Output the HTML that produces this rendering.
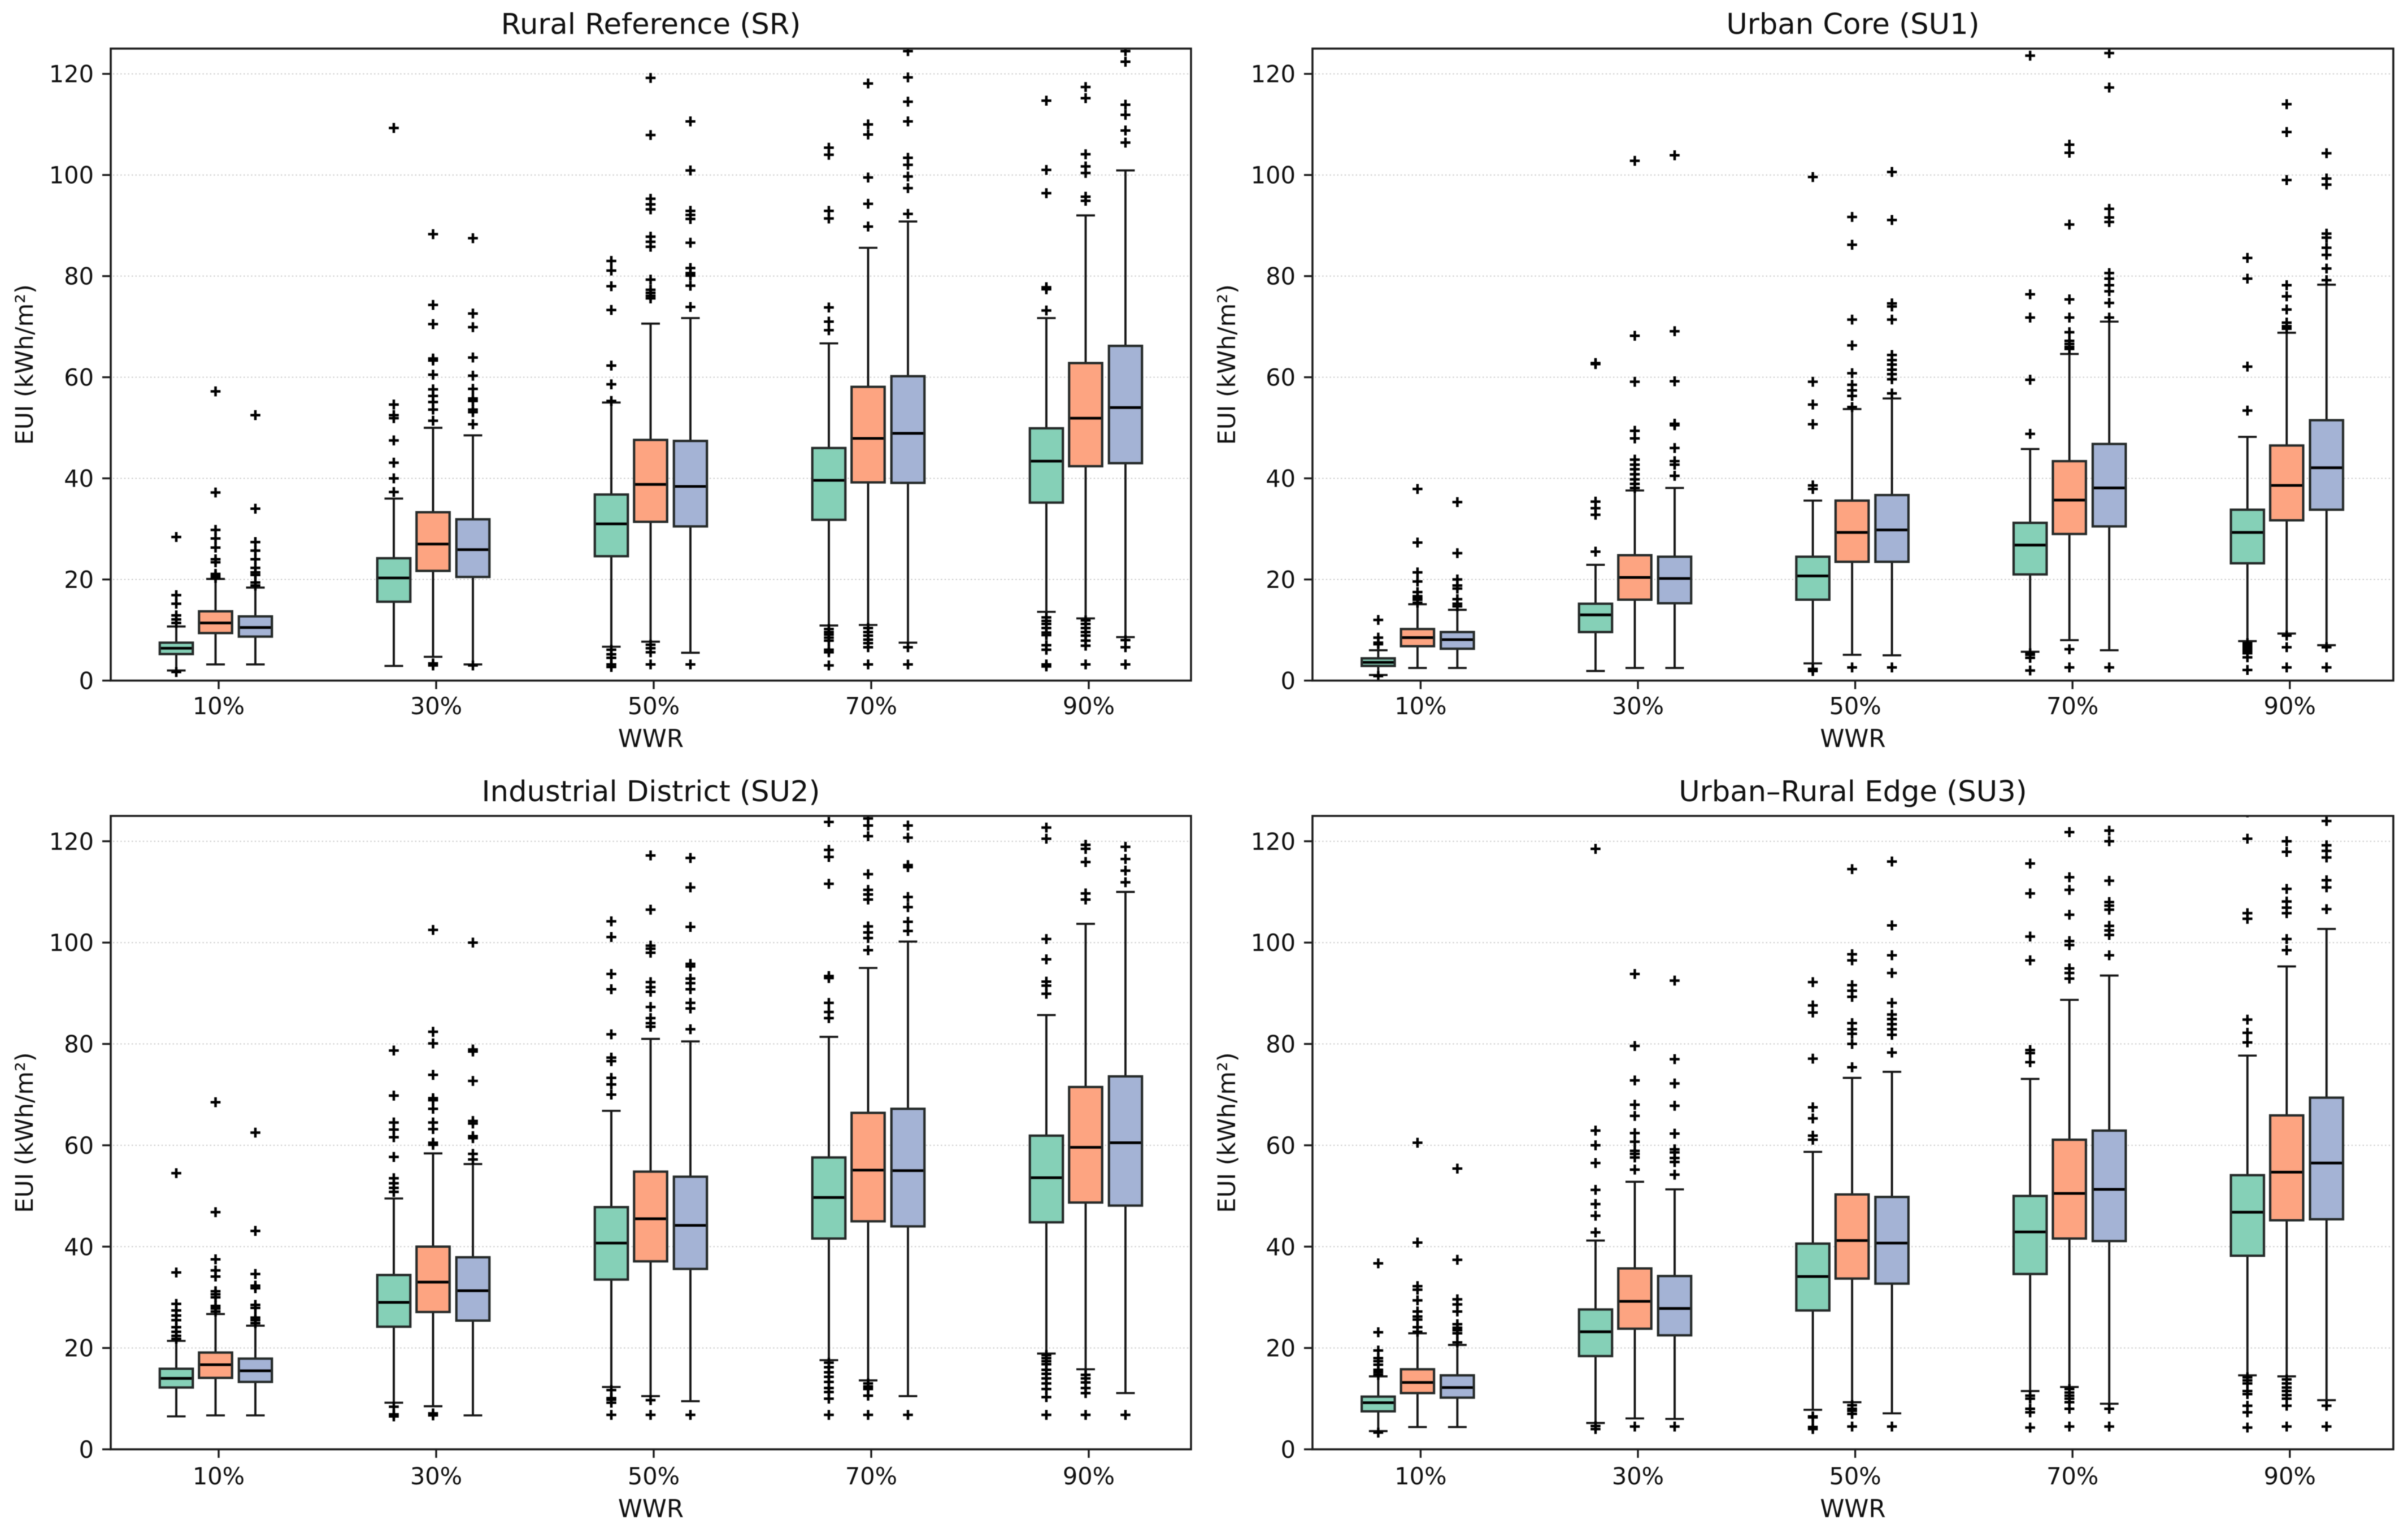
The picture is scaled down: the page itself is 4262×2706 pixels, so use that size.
<!DOCTYPE html>
<html lang="en">
<head>
<meta charset="utf-8">
<title>EUI by WWR boxplots</title>
<style>
html,body{margin:0;padding:0;background:#fff;width:4262px;height:2706px;overflow:hidden}
svg{display:block;filter:blur(0.9px)}
text{font-family:"DejaVu Sans","Liberation Sans",sans-serif;fill:#111}
</style>
</head>
<body>
<svg id="chart" xmlns="http://www.w3.org/2000/svg" width="4262" height="2706" viewBox="0 0 4262 2706"></svg>
<script>
const categories = ['10%','30%','50%','70%','90%'];
const seriesNames = ['series-a','series-b','series-c'];
const yTicks = [0,20,40,60,80,100,120];
const panelTitles = ['Rural Reference (SR)','Urban Core (SU1)','Industrial District (SU2)','Urban–Rural Edge (SU3)'];
const panelKeys = ['sr','su1','su2','su3'];

// Each stat: [category][series]
const srLow = [[2.0,3.2,3.2],[2.9,4.7,3.2],[6.7,7.7,5.5],[10.9,11,7.5],[13.6,12.3,8.6]];
const srQ1 = [[5.25,9.4,8.7],[15.6,21.7,20.5],[24.6,31.4,30.5],[31.8,39.2,39.1],[35.2,42.4,43]];
const srMedian = [[6.4,11.4,10.5],[20.3,27,25.9],[31,38.8,38.4],[39.6,47.9,48.9],[43.4,51.9,54]];
const srQ3 = [[7.5,13.7,12.7],[24.2,33.3,31.9],[36.8,47.6,47.4],[46,58.1,60.2],[49.9,62.8,66.2]];
const srHigh = [[10.7,20.1,18.4],[36,50,48.5],[55,70.6,71.7],[66.7,85.6,90.8],[71.7,92,100.9]];
const srFliers = [
 [[28.4,16.9,15.2,12.9,12.1,11.4,1.7],[57.2,37.2,29.8,28.1,26.3,24,23.4,21.1,20.7,20.3],[52.5,34,27.4,25.7,24,22.3,21.4,20.9,19.4,18.8]],
 [[109.3,54.6,52.5,51.9,47.5,43.1,40,37.3],[88.3,74.3,70.5,63.7,63.3,60.5,57.6,56.3,55.1,53.6,51.4,3.4,3.0],[87.5,72.6,69.9,63.9,60.3,57.7,55.8,55.3,53.6,53.1,50.7,3.0]],
 [[83,81.1,78,73.3,62.3,58.6,55.3,6.1,5.2,4.5,3.2,2.7],[119.2,107.9,95.3,94.2,93.2,87.8,86.8,85.8,79.3,77.3,76.7,76.1,75.6,7.1,6.4,5.6,3.2],[110.6,100.9,92.9,92.1,91.3,86.6,81.6,80.6,80.1,78.1,73.9,3.2]],
 [[105.4,104,92.9,91.4,73.8,71,69.3,10.2,9.6,9.1,8.5,7.9,6.1,5.6,3.0],[118.1,110,108,99.5,94.3,89.8,10.4,9.6,8.9,8.1,7.4,6.6,3.2],[124.5,119.3,114.5,110.6,103.4,102,99.7,97.4,92.3,6.6,3.2]],
 [[114.7,101,96.4,77.8,77.4,73.2,12.5,11.8,11.2,10.4,9.5,9,7,6.1,3.2,2.8],[117.4,115.2,104.1,101.7,100.4,95.7,94.9,11.9,11.2,10.4,9.6,8.9,7.9,6.9,3.2],[124.5,122.4,113.9,111.9,108.8,106.4,8,6.6,3.2]]
];

const su1Low = [[1.1,2.5,2.5],[1.9,2.5,2.5],[3.4,5.1,5],[5.7,8,6],[7.8,9.3,7]];
const su1Q1 = [[2.9,6.8,6.3],[9.6,16,15.3],[16,23.5,23.5],[21,29,30.5],[23.2,31.7,33.8]];
const su1Median = [[3.6,8.5,8.1],[13,20.4,20.2],[20.7,29.3,29.8],[26.8,35.7,38.1],[29.3,38.6,42.1]];
const su1Q3 = [[4.4,10.2,9.6],[15.2,24.8,24.5],[24.5,35.6,36.7],[31.2,43.4,46.8],[33.8,46.5,51.5]];
const su1High = [[6,15.1,14],[22.9,37.6,38.1],[35.6,53.7,55.8],[45.8,64.6,71],[48.2,68.8,78.3]];
const su1Fliers = [
 [[12,8.5,7.5,7.2,0.9],[37.9,27.3,21.4,19.6,17.5,16.7,16.3,16,15.4],[35.3,25.2,20,18.8,18.2,16.1,15.2,14.7]],
 [[62.8,62.6,35.4,34.1,32.8,25.5],[102.8,68.2,59.1,49.4,47.9,43.7,42.7,41.8,40.8,39.8,38.9,38.1],[103.9,69.1,59.2,50.8,50.5,46,43.4,42.7,40.5]],
 [[99.6,59.1,54.6,50.7,38.6,37.9,2.3,1.9],[91.7,86.2,71.4,66.3,60.8,58.5,57.4,56.3,54.1,2.6],[100.6,91.1,74.6,74,71.4,64.4,63.4,62.5,61.5,60.6,59.6,56.8,2.6]],
 [[123.6,76.4,71.8,59.5,48.8,5.4,5.1,4.5,2],[106,104.4,90.2,75.4,71.8,68.9,67.2,66.6,66,65.6,6.2,2.6],[124.1,117.3,93.3,91.6,90.7,80.6,79.5,78.2,77,74.7,71.8,2.6]],
 [[83.6,79.5,62.1,53.4,7.4,6.9,6.4,5.9,5.4,4.6,2.1],[114,108.5,99,78.2,76,73.4,70.8,70.1,69.6,8.9,6.6,2.6],[104.3,99.3,98.1,88.4,87.6,85.6,84.2,81.5,79.2,6.6,2.6]]
];

const su2Low = [[6.5,6.7,6.7],[9.2,8.5,6.7],[12.3,10.5,9.5],[17.6,13.6,10.5],[18.9,15.8,11.1]];
const su2Q1 = [[12.2,14.1,13.3],[24.2,27.1,25.4],[33.5,37.1,35.6],[41.6,45,44],[44.8,48.7,48.1]];
const su2Median = [[14,16.7,15.5],[29,33,31.3],[40.7,45.5,44.2],[49.7,55.1,55],[53.6,59.6,60.5]];
const su2Q3 = [[15.9,19.1,17.9],[34.4,40,37.9],[47.8,54.8,53.8],[57.6,66.4,67.2],[61.9,71.5,73.6]];
const su2High = [[21.4,26.7,24.4],[49.5,58.4,56.3],[66.8,81,80.5],[81.4,95,100.2],[85.7,103.7,110]];
const su2Fliers = [
 [[54.5,34.9,28.7,27.4,26.4,25.5,24.1,23.2,22.4,21.8],[68.5,46.8,37.5,35.3,34.1,31.2,30.6,30,28.3,27.8,27.2],[62.5,43.1,34.6,32.3,31.8,28.5,27.9,26,25.5,24.9]],
 [[78.7,69.8,64.5,63.1,61.6,57.7,53.5,52.5,51.6,50.8,8.4,6.9,6.5],[102.5,82.4,80.1,73.9,69.3,68.9,67.2,64.5,63.2,60.5,60.1,7.1,6.7],[100,78.9,78.5,72.7,64.8,64.3,61.8,61.4,58.3,57.2]],
 [[104.2,101.1,93.8,90.8,81.9,77.3,76.6,73.3,72,70,11.7,10.1,9.8,9.2,6.8],[117.2,106.5,99.4,98.8,98,92.2,91.2,90.3,87.3,85.1,84.1,83.4,9.7,6.8],[116.7,110.9,103.1,95.8,95.3,92.9,92,90.8,88.1,87,82.9,6.8]],
 [[123.8,118.3,116.9,111.6,93.4,93,88.1,86.3,85.1,17.1,16.2,15.2,14.3,13.3,12.1,11.3,10,6.8],[124.5,123.1,121,113.5,110.4,109.5,108.5,103.2,102,100.9,98.5,13,12.4,11.9,10.6,6.8],[123.1,120.7,115.3,114.9,109,107,104.1,102.3,6.8]],
 [[122.7,120.5,100.7,96.7,92.3,91.5,89.9,18.6,18,17.4,16.8,15.7,14.9,14,13,11.9,10.3,6.8],[119.3,118.5,115.9,109.7,108.5,14.7,14,13.2,12.1,11.1,6.8],[118.9,116.5,114.2,111.9,6.8]]
];

const su3Low = [[3.6,4.4,4.4],[5.2,6.1,6],[7.8,9.3,7.1],[11.5,12.3,9],[14.6,14.4,9.7]];
const su3Q1 = [[7.5,11.1,10.2],[18.4,23.8,22.5],[27.4,33.7,32.7],[34.6,41.6,41.1],[38.2,45.2,45.4]];
const su3Median = [[9.2,13.2,12.2],[23.2,29.2,27.8],[34.1,41.2,40.7],[42.9,50.5,51.3],[46.8,54.7,56.5]];
const su3Q3 = [[10.4,15.8,14.6],[27.6,35.7,34.2],[40.6,50.3,49.8],[50,61.1,62.9],[54.1,65.9,69.4]];
const su3High = [[14.4,22.9,20.6],[41.2,52.8,51.3],[58.7,73.3,74.5],[73.1,88.7,93.5],[77.7,95.3,102.7]];
const su3Fliers = [
 [[36.7,23.1,19.5,18,17.4,16.7,15.7,15.2,14.7,3.3],[60.5,40.8,32.2,31.5,29.4,27.2,26.2,25.6,24.1,23.2],[55.4,37.4,29.6,28.6,27.2,24.7,24,23.5,22.9,21.1]],
 [[118.5,62.9,60,56.5,51.2,48.4,46.1,42.8,4.6,4],[93.8,79.6,72.8,68,65.8,62.4,60.7,58.9,58.3,57.6,55.2,4.5],[92.5,77,72.2,67.8,62.3,59.2,58.6,57.5,56.7,54.2,4.5]],
 [[92.2,87.6,86.2,77.1,67.5,65.3,61.9,61.1,6.5,6.3,4.4,4],[114.5,97.7,96.5,91.6,90.5,89.3,84.1,82.9,82,80,75.4,8.7,8,7.6,7,4.5],[116,103.4,97.5,94,88.1,85.8,84.9,83.9,82.9,81.8,78.3,4.5]],
 [[115.6,109.7,101.2,96.5,78.8,78.2,76.4,10.6,10,8,7.3,4.3],[121.8,112.9,110.4,105.5,100.3,99.5,94.9,94,92.9,11.9,11.2,10.6,10,9.3,8,4.5],[122.1,120,112.2,108,107.3,106.5,103.3,102.4,101.5,97.5,8,4.5]],
 [[125.7,120.5,105.8,104.7,84.8,82.2,80.3,14.2,13.6,13,11.5,10.9,8.6,7.3,4.3],[120,117.9,110.6,108.1,106.9,105.8,100.7,98.5,13.8,13,12.2,11.5,10.7,10,8.6,4.5],[124,119.2,118.1,116.8,112.3,110.9,106.6,8.6,4.5]]
];

const panelLows = [srLow,su1Low,su2Low,su3Low];
const panelQ1s = [srQ1,su1Q1,su2Q1,su3Q1];
const panelMedians = [srMedian,su1Median,su2Median,su3Median];
const panelQ3s = [srQ3,su1Q3,su2Q3,su3Q3];
const panelHighs = [srHigh,su1High,su2High,su3High];
const panelFliers = [srFliers,su1Fliers,su2Fliers,su3Fliers];

const NS = 'http://www.w3.org/2000/svg';
const svg = document.getElementById('chart');
const FILLS = ['#85d0b7','#fda481','#a4b3d5'];
const INK = '#161616';
const Y_MAX = 125;

function mk(tag, attrs, parent, txt) {
  const e = document.createElementNS(NS, tag);
  for (const k in attrs) e.setAttribute(k, attrs[k]);
  if (txt !== undefined) e.textContent = txt;
  parent.appendChild(e);
  return e;
}

function drawPanel(p) {
  const col = p % 2, row = Math.floor(p / 2);
  const left = col ? 2323 : 196, right = col ? 4236 : 2108;
  const top = row ? 1444 : 86, bottom = row ? 2565 : 1204.5;
  const tick0 = col ? 2514.4 : 387, tickStep = col ? 384.6 : 385;
  const titleY = row ? 1418 : 60, tickLabelY = row ? 2627 : 1264, xlabelY = row ? 2685 : 1322;
  const ylabelX = col ? 2186 : 58;

  const yOf = v => bottom - (v / Y_MAX) * (bottom - top);
  const xOf = i => tick0 + i * tickStep;
  const OFFSETS = [-75, -5.5, 65];
  const BOX_W = 58.5, CAP_W = 33;

  const g = mk('g', {}, svg);
  
  

  const clipId = 'clip-' + p;
  const defs = mk('defs', {}, g);
  const cp = mk('clipPath', {id: clipId}, defs);
  mk('rect', {x: left, y: top, width: right - left, height: bottom - top}, cp);

  // Gridlines
  yTicks.forEach(t => {
    if (t === 0) return;
    const gl = mk('line', {x1: left + 4, x2: right - 2, y1: yOf(t), y2: yOf(t), stroke: '#cbcbcb', 'stroke-width': 2, 'stroke-dasharray': '2.4 4.2'}, g);
    
    
  });

  const plot = mk('g', {'clip-path': 'url(#' + clipId + ')'}, g);
  
  

  categories.forEach((cat, c) => {
    seriesNames.forEach((sn, s) => {
      const cx = xOf(c) + OFFSETS[s];
      const box = mk('g', {}, plot);
      
      

      const lo = panelLows[p][c][s], q1 = panelQ1s[p][c][s], md = panelMedians[p][c][s], q3 = panelQ3s[p][c][s], hi = panelHighs[p][c][s];

      const w1 = mk('line', {x1: cx, x2: cx, y1: yOf(q1), y2: yOf(lo), stroke: INK, 'stroke-width': 3.9}, box);
      
      
      const w2 = mk('line', {x1: cx, x2: cx, y1: yOf(q3), y2: yOf(hi), stroke: INK, 'stroke-width': 3.9}, box);
      
      
      const c1 = mk('line', {x1: cx - CAP_W / 2, x2: cx + CAP_W / 2, y1: yOf(lo), y2: yOf(lo), stroke: INK, 'stroke-width': 3.7}, box);
      
      
      const c2 = mk('line', {x1: cx - CAP_W / 2, x2: cx + CAP_W / 2, y1: yOf(hi), y2: yOf(hi), stroke: INK, 'stroke-width': 3.7}, box);
      
      

      const r = mk('rect', {x: cx - BOX_W / 2, y: yOf(q3), width: BOX_W, height: yOf(q1) - yOf(q3), fill: FILLS[s], stroke: '#262b2a', 'stroke-width': 4.2}, box);
      
      
      const m = mk('line', {x1: cx - BOX_W / 2 + 2, x2: cx + BOX_W / 2 - 2, y1: yOf(md), y2: yOf(md), stroke: '#000', 'stroke-width': 4.8}, box);
      
      

      panelFliers[p][c][s].forEach(v => {
        const y = yOf(v);
        const f = mk('path', {d: 'M' + (cx - 8.8) + ' ' + y + 'H' + (cx + 8.8) + 'M' + cx + ' ' + (y - 8.8) + 'V' + (y + 8.8), stroke: '#000', 'stroke-width': 4.5, fill: 'none'}, box);
        
        
      });
    });
  });

  // Spines
  const frame = mk('rect', {x: left, y: top, width: right - left, height: bottom - top, fill: 'none', stroke: '#1d1d1d', 'stroke-width': 3.6}, g);
  
  

  // Y ticks
  yTicks.forEach(t => {
    const tk = mk('line', {x1: left - 15, x2: left, y1: yOf(t), y2: yOf(t), stroke: '#1d1d1d', 'stroke-width': 3.4}, g);
    
    
    const lb = mk('text', {x: left - 30, y: yOf(t) + 15, 'text-anchor': 'end', 'font-size': 41.5}, g, String(t));
    
    
  });

  // X ticks
  categories.forEach((cat, c) => {
    const tk = mk('line', {x1: xOf(c), x2: xOf(c), y1: bottom, y2: bottom + 15, stroke: '#1d1d1d', 'stroke-width': 3.4}, g);
    
    
    const lb = mk('text', {x: xOf(c), y: tickLabelY, 'text-anchor': 'middle', 'font-size': 41.5}, g, cat);
    
    
  });

  const title = mk('text', {x: (left + right) / 2, y: titleY, 'text-anchor': 'middle', 'font-size': 51.2}, g, panelTitles[p]);
  
  

  const xl = mk('text', {x: (left + right) / 2, y: xlabelY, 'text-anchor': 'middle', 'font-size': 43.5}, g, 'WWR');
  
  

  const yc = (top + bottom) / 2;
  const yl = mk('text', {x: ylabelX, y: yc, 'text-anchor': 'middle', 'font-size': 42.6, transform: 'rotate(-90 ' + ylabelX + ' ' + yc + ')'}, g, 'EUI (kWh/m²)');
  
  
}

panelTitles.forEach((t, p) => drawPanel(p));
</script>
</body>
</html>
